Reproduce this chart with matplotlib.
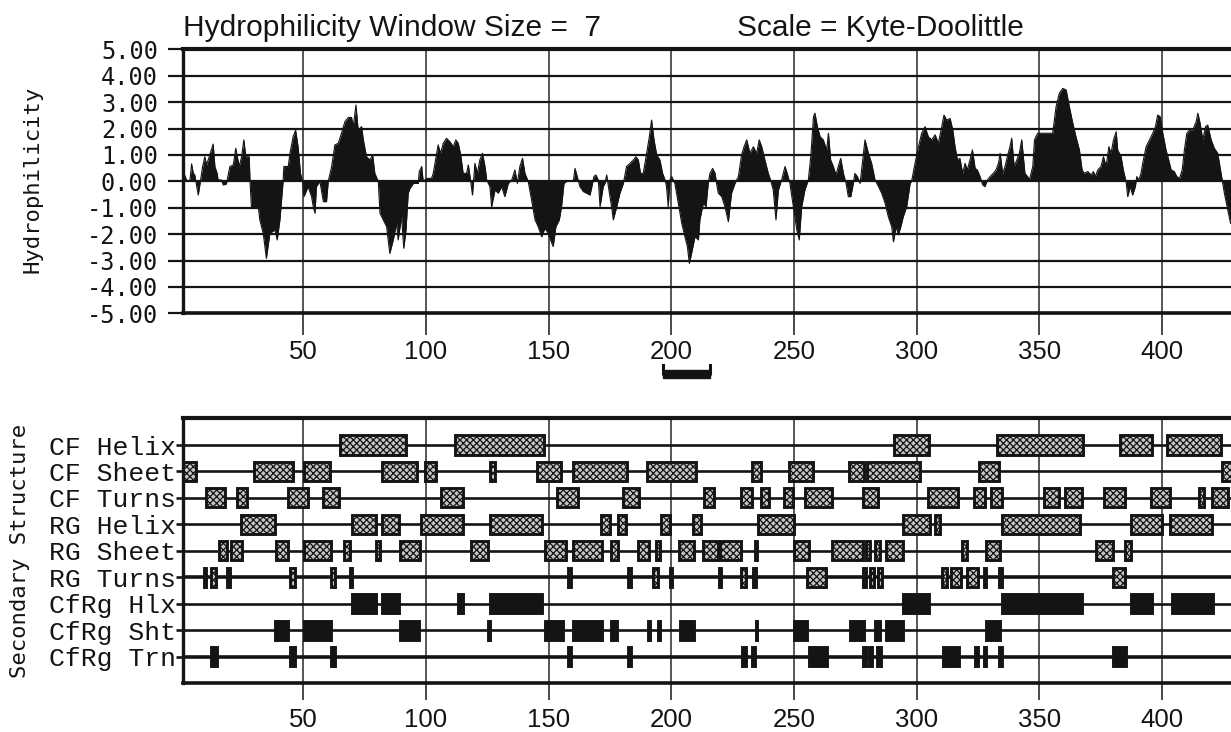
import matplotlib

matplotlib.use("Agg")
import matplotlib.pyplot as plt
from matplotlib.patches import Rectangle

# Kyte-Doolittle profile (window 7), vertices
profile_res = [
    1.0, 2.4, 3.8, 4.5, 5.2, 5.8, 7.2, 8.1, 9.0, 9.9, 10.6, 11.9, 13.3, 14.0, 14.9, 15.3,
    16.7, 17.4, 18.7, 20.1, 21.5, 22.5, 23.9, 24.9, 25.8, 26.6, 28.0, 28.3, 28.9, 31.7,
    32.3, 33.7, 35.0, 36.4, 38.5, 39.4, 40.5, 41.8, 42.1, 43.9, 44.6, 45.9, 46.9, 47.9,
    48.9, 49.7, 50.3, 52.0, 53.4, 54.1, 54.8, 55.4, 56.8, 58.2, 59.5, 60.2, 61.6, 62.9,
    64.3, 65.6, 67.0, 68.4, 69.7, 70.4, 71.5, 72.4, 73.8, 74.5, 75.8, 77.2, 78.3, 79.2,
    80.6, 81.3, 84.0, 85.3,
    86.7, 88.1, 88.7, 90.1, 91.0, 91.9, 92.8, 93.5, 94.9, 96.9, 97.3, 98.3, 98.9, 100.3,
    102.3, 103.0, 104.4, 105.0, 106.0, 107.1, 108.4, 109.8, 111.2, 112.2, 113.2, 114.2,
    115.2, 116.6, 117.3, 118.2, 119.0, 120.0, 121.0, 122.0, 123.1, 124.1, 124.8, 126.1,
    126.8, 128.2, 129.5, 130.9, 132.2, 133.6, 135.0, 136.3, 137.3, 138.3, 139.4, 140.4,
    141.7, 143.1, 144.5, 145.8, 147.2, 148.5, 149.9, 150.8, 151.9, 153.0, 154.4, 155.3,
    156.3, 157.4, 160.1, 160.8, 161.7, 162.8, 164.2, 165.5, 166.9, 167.8, 168.5, 169.3,
    170.3, 171.0, 172.3,
    173.0, 173.7, 174.4, 175.7, 176.4, 177.8, 179.1, 180.5, 181.8, 183.2, 184.6, 185.6,
    186.6, 187.5, 188.6, 190.0, 191.1, 192.0, 193.0, 194.1, 195.4, 196.5, 197.5, 198.1,
    198.8, 199.5, 200.2, 201.5, 202.9, 204.3, 205.6, 206.6, 207.4, 208.3, 209.7, 211.1,
    211.7, 213.1, 214.2, 215.1, 215.8, 216.9, 217.9, 218.5, 219.2, 220.6, 221.9, 223.3,
    224.6, 226.0, 227.4, 228.7, 229.7, 230.8, 232.1, 233.5, 234.8, 235.9, 236.9, 238.2,
    239.6, 240.5, 241.6, 242.7, 243.7, 245.0, 246.4, 247.3, 248.4, 249.8, 251.2, 252.2,
    253.2, 254.5, 255.9, 256.9, 258.0,
    258.6, 259.6, 260.7, 262.0, 263.4, 264.1, 265.0, 266.1, 267.2, 268.1, 269.1, 270.2,
    271.3, 272.2, 273.2, 274.0, 274.9, 275.9, 277.0, 278.1, 279.0, 280.4, 281.7, 283.1,
    284.5, 285.8, 287.2, 288.5, 289.9, 290.6, 291.7, 292.6, 293.6, 294.6, 296.0, 297.4,
    298.0, 299.4, 300.8, 302.1, 303.5, 304.8, 306.2, 307.6, 308.9, 310.3, 311.2, 312.3,
    313.7, 314.8, 315.7, 316.7, 317.7, 318.8, 319.8, 320.7, 321.8, 322.8, 323.9, 324.8,
    325.9, 327.0, 327.9, 328.9, 330.0, 331.3, 332.4, 333.4, 334.1, 335.1, 336.1, 337.0,
    338.1, 338.8, 339.8, 340.9, 341.9, 342.9, 344.2,
    345.3, 346.0, 347.4, 348.1, 349.4, 355.5, 356.2, 356.9, 358.2, 359.6, 361.0, 362.3,
    363.7, 365.0, 366.4, 367.5, 368.4, 369.8, 371.2, 372.1, 372.9, 373.9, 375.2, 376.2,
    377.3, 378.4, 379.3, 380.3, 381.4, 382.0, 383.4, 384.3, 385.4, 386.1, 387.1, 388.1,
    389.2, 389.8, 390.6, 391.5, 392.2, 393.6, 395.0, 396.3, 397.4, 398.3, 399.3, 400.4,
    401.7, 402.8, 403.8, 405.1, 406.1, 407.2, 408.3, 409.2, 410.2, 411.3, 412.6, 414.0,
    414.7, 415.6, 416.7, 417.8, 418.7, 420.1, 421.4, 422.8, 423.7, 424.6, 425.5, 426.9,
    428.0,
]
profile_val = [
    0.40, 0.05, 0.00, 0.66, 0.30, 0.24, -0.52, 0.00, 0.56, 0.93, 0.62, 1.00, 1.41, 0.56, 0.30, 0.05,
    0.05, -0.14, -0.10, 0.56, 0.62, 1.25, 0.56, 0.93, 1.57, 0.93, 0.93, 0.00, -0.96, -0.96,
    -1.46, -1.97, -2.92, -1.97, -1.84, -2.22, -1.46, 0.00, 0.56, 0.56, 1.06, 1.69, 1.94, 1.31,
    0.30, 0.00, -0.58, -0.20, -0.58, -0.96, -1.21, -0.20, 0.00, -0.77, -0.77, 0.00, 0.56, 1.38,
    1.44, 1.82, 2.26, 2.42, 2.42, 2.07, 2.89, 1.94, 2.07, 1.57, 0.93, 0.81, 1.00, 0.30,
    0.00, -1.21, -1.72, -2.73,
    -2.22, -1.59, -2.22, -1.34, -2.54, -1.84, -0.45, -0.27, -0.08, -0.08, 0.37, 0.56, 0.00, 0.11,
    0.11, 0.30, 1.06, 1.38, 1.06, 1.44, 1.63, 1.50, 1.31, 1.57, 1.44, 1.00,
    0.30, 0.30, 0.62, 0.05, -0.52, 0.68, 0.30, 0.81, 1.06, 0.56, 0.05, -0.20,
    -0.96, -0.33, -0.45, -0.20, -0.58, -0.08, 0.05, 0.43, -0.08, 0.56, 0.87, 0.30,
    0.00, -0.71, -1.46, -1.72, -2.10, -1.78, -1.97, -2.22, -2.47, -1.72, -1.46, -0.96,
    -0.08, 0.00, 0.00, 0.49, 0.18, -0.20, -0.39, -0.45, -0.52, -0.14, 0.18, 0.24,
    0.05, -0.96, -0.20,
    -0.08, 0.24, -0.20, -0.96, -1.46, -0.96, -0.45, -0.08, 0.56, 0.68, 0.81, 0.93,
    0.81, 0.30, 0.30, 1.06, 1.69, 2.32, 1.57, 1.00, 0.81, 0.30, 0.05, -0.20,
    -0.96, 0.05, 0.18, -0.08, -0.83, -1.59, -2.10, -2.47, -3.11, -2.73, -2.10, -2.22,
    -1.46, -0.83, -0.96, -0.08, 0.30, 0.49, 0.30, -0.08, -0.45, -0.58, -0.96, -1.53,
    -0.45, -0.08, 0.18, 1.00, 1.31, 1.57, 1.06, 1.31, 1.06, 1.57, 1.31, 0.81,
    0.30, 0.05, -0.33, -1.46, -0.33, 0.05, 0.56, 0.30, -0.08, -0.96, -1.84, -2.22,
    -0.96, -0.33, 0.05, 0.93, 2.45,
    2.58, 2.07, 1.69, 1.57, 1.19, 1.82, 0.81, 0.56, 0.24, 0.56, 0.87, 0.30,
    -0.08, -0.58, -0.58, -0.20, 0.30, 0.18, -0.08, 0.81, 1.57, 1.06, 0.68, 0.05,
    -0.20, -0.45, -0.83, -1.34, -1.72, -2.29, -1.72, -2.03, -1.72, -1.34, -0.96, -0.08,
    0.00, 0.68, 1.31, 1.82, 2.07, 1.69, 1.57, 1.76, 1.44, 2.07, 2.51, 2.32,
    2.38, 1.94, 1.31, 0.81, 0.87, 0.30, 0.68, 0.43, 0.81, 1.19, 0.49, 0.43,
    0.18, -0.14, -0.20, 0.05, 0.18, 0.30, 0.43, 0.68, 1.06, 0.30, 0.56, 0.93,
    1.31, 1.63, 0.56, 0.81, 1.06, 1.57, 0.30,
    0.18, 0.05, 0.56, 1.57, 1.82, 1.82, 2.32, 2.83, 3.33, 3.52, 3.46, 2.83,
    2.20, 1.69, 1.19, 0.43, 0.30, 0.37, 0.24, 0.37, 0.18, 0.43, 0.56, 0.93,
    0.56, 1.31, 1.06, 1.57, 1.88, 1.19, 0.93, 0.43, 0.00, -0.58, -0.20, -0.52,
    -0.20, 0.18, 0.05, 0.30, 0.68, 1.31, 1.57, 1.82, 2.07, 2.51, 2.45, 1.82,
    1.19, 0.81, 0.43, 0.37, 0.18, 0.11, 0.43, 1.19, 1.82, 1.94, 1.94, 2.26,
    2.58, 2.20, 1.57, 2.07, 2.13, 1.57, 1.25, 1.06, 0.56, 0.05, -0.45, -1.09,
    -1.59,
]

# marked stretch under the profile
window_span = (196.6, 215.9)

# secondary structure predictions: (first residue, last residue)
row_labels = ["CF Helix", "CF Sheet", "CF Turns", "RG Helix", "RG Sheet",
              "RG Turns", "CfRg Hlx", "CfRg Sht", "CfRg Trn"]
cf_helix = [(65, 92), (112, 148), (291, 305), (333, 368), (383, 396), (402, 424)]
cf_sheet = [(1, 6.5), (30, 46), (50.5, 61), (82, 96.5), (99.5, 104), (126, 128),
            (145.5, 155), (160, 182), (190, 210), (233, 236.5), (248, 258),
            (272.5, 278.5), (280, 301.5), (325.5, 333.5), (424.5, 431)]
cf_turns = [(10.5, 18), (23, 27), (44, 52), (58, 64.5), (106, 115), (153.5, 162),
            (180.5, 187), (213.5, 217.5), (228.5, 233), (236.5, 240), (246, 249.5),
            (254.5, 265.5), (278, 284.5), (304.5, 317), (323.5, 328), (330.5, 335),
            (352, 358), (360.5, 367.5), (376.5, 385), (395.5, 403.5), (415, 417),
            (420.5, 427)]
rg_helix = [(24.5, 38.5), (70, 79.5), (82, 89), (98, 115), (126, 147.5), (171.5, 175),
            (178.5, 181.5), (196, 199.5), (209, 212), (235.5, 250), (294.5, 305.5),
            (307.5, 309.5), (335, 366.5), (387.5, 400), (403.5, 420.5)]
rg_sheet = [(15.5, 19), (20.5, 25), (39, 44), (50.5, 61.5), (66.5, 69), (79.5, 81.5),
            (89.5, 97.5), (118.5, 125.5), (148.5, 157), (160, 172), (175.5, 178.5),
            (186.5, 191), (194, 195.5), (203, 209.5), (213, 219), (220, 228.5),
            (234, 235), (250, 256), (265.5, 278), (279.5, 281), (283, 285),
            (287.5, 294.5), (318.5, 320.5), (328.5, 334), (373, 380), (385, 387.5)]
rg_turns = [(9.5, 10.5), (12.5, 14.5), (19, 20), (44.5, 46.5), (61.5, 63), (69, 70),
            (158, 159), (182.5, 183.5), (192.5, 194.5), (199.5, 200.5), (219.5, 220.5),
            (228.5, 230.5), (233.5, 234.5), (255.5, 263), (278, 279.5), (281, 282.5),
            (284.5, 286), (310.5, 312.5), (314, 318), (320.5, 325), (327.5, 328.5),
            (333.5, 335), (380, 385)]
cfrg_hlx = [(70, 79.5), (82, 89), (113, 115), (126, 147.5), (294.5, 305),
            (335, 367.5), (387.5, 396), (404, 421)]
cfrg_sht = [(38.5, 44), (50.5, 61.5), (89.5, 97), (125.5, 126), (148.5, 156),
            (160, 172), (175.5, 178), (190.5, 191.5), (194.5, 195.5), (203.5, 209.5),
            (234.5, 235), (250, 255.5), (273, 278.5), (283, 285), (287.5, 294.5),
            (328.5, 334)]
cfrg_trn = [(12.5, 15), (44.5, 46.5), (61.5, 63), (158, 159), (182.5, 183.5),
            (229, 230.5), (233, 234), (256, 263.5), (278, 279.5), (280.5, 282),
            (284, 285.5), (311, 313), (313.5, 317.5), (324, 325), (327.5, 328.5),
            (333.5, 335), (380, 385.5)]
row_segments = [cf_helix, cf_sheet, cf_turns, rg_helix, rg_sheet,
                rg_turns, cfrg_hlx, cfrg_sht, cfrg_trn]

x_ticks = [50, 100, 150, 200, 250, 300, 350, 400]
y_ticks = [5, 4, 3, 2, 1, 0, -1, -2, -3, -4, -5]

INK = "#141414"
MONO = "DejaVu Sans Mono"
SANS = "Liberation Sans"
W, H = 1231, 732
X_RANGE = (1.0, 428.2)

plt.rcParams["hatch.linewidth"] = 0.9

fig = plt.figure(figsize=(W / 100, H / 100), dpi=100)
left = 183 / W


def style_frame(ax):
    ax.spines["right"].set_visible(False)
    ax.spines["left"].set_linewidth(2.4)
    ax.spines["top"].set_linewidth(3.0)
    ax.spines["bottom"].set_linewidth(2.6)
    for spine in ax.spines.values():
        spine.set_color(INK)
    ax.set_xlim(*X_RANGE)
    ax.set_xticks(x_ticks)
    ax.set_xticklabels([str(t) for t in x_ticks], fontsize=18.5, family=SANS, color=INK)
    ax.grid(axis="x", color="#3a3a3a", linewidth=1.2, zorder=1)
    ax.set_axisbelow(True)


# --- hydrophilicity profile ---
ax1 = fig.add_axes([left, 1 - 313.3 / H, 1 - left, 264 / H])
style_frame(ax1)
ax1.set_ylim(-5, 5)
for y in y_ticks[1:-1]:
    ax1.axhline(y, color=INK, linewidth=1.6, zorder=1.5)
ax1.fill_between(profile_res, 0, profile_val, color=INK, linewidth=0, zorder=3)
ax1.plot(profile_res, profile_val, color=INK, linewidth=0.8, zorder=3)
ax1.set_yticks(y_ticks)
ax1.set_yticklabels([f"{v:.2f}" for v in y_ticks], fontsize=17, family=MONO, color=INK)
ax1.tick_params(axis="x", direction="out", length=16, width=1.3, pad=3, color="#3a3a3a")
ax1.tick_params(axis="y", direction="out", length=11, width=1.6, pad=7, color=INK)

a, b = window_span
ax1.add_patch(Rectangle((a, -7.45), b - a, 0.3, color=INK, clip_on=False))
ax1.plot([a, a, b, b], [-6.95, -7.3, -7.3, -6.95], color=INK, linewidth=2.2,
         clip_on=False)

fig.text(left, 1 - 36 / H, "Hydrophilicity Window Size =  7", fontsize=21.5,
         family=SANS, color=INK, va="baseline")
fig.text(737 / W, 1 - 36 / H, "Scale = Kyte-Doolittle", fontsize=21.5,
         family=SANS, color=INK, va="baseline")
fig.text(33 / W, 1 - 179 / H, "Hydrophilicity", rotation=90, ha="center",
         va="center", fontsize=16, family=MONO, color=INK)

# --- secondary structure ---
ax2 = fig.add_axes([left, 1 - 683 / H, 1 - left, 265 / H])
style_frame(ax2)
ax2.set_ylim(8.99, -1.02)
for i, segments in enumerate(row_segments):
    solid = row_labels[i].startswith("CfRg")
    lw = 2.6 if row_labels[i] in ("RG Turns", "CfRg Trn") else 1.9
    ax2.axhline(i, color=INK, linewidth=lw, zorder=2)
    for start, end in segments:
        ax2.add_patch(Rectangle(
            (start, i - 0.36), end - start, 0.72,
            facecolor=INK if solid else "#c4c4c4",
            hatch=None if solid else "xxxxx",
            edgecolor=INK, linewidth=2.1, zorder=3,
        ))
ax2.set_yticks(range(len(row_labels)))
ax2.set_yticklabels(row_labels, fontsize=19, family="Liberation Mono", color=INK)
ax2.tick_params(axis="x", direction="out", length=12, width=1.3, pad=6, color="#3a3a3a")
ax2.tick_params(axis="y", direction="out", length=5, width=1.9, pad=0, color=INK)
fig.text(20 / W, 1 - 551 / H, "Secondary Structure", rotation=90, ha="center",
         va="center", fontsize=16, family=MONO, color=INK)

fig.savefig("out.png", dpi=100)
